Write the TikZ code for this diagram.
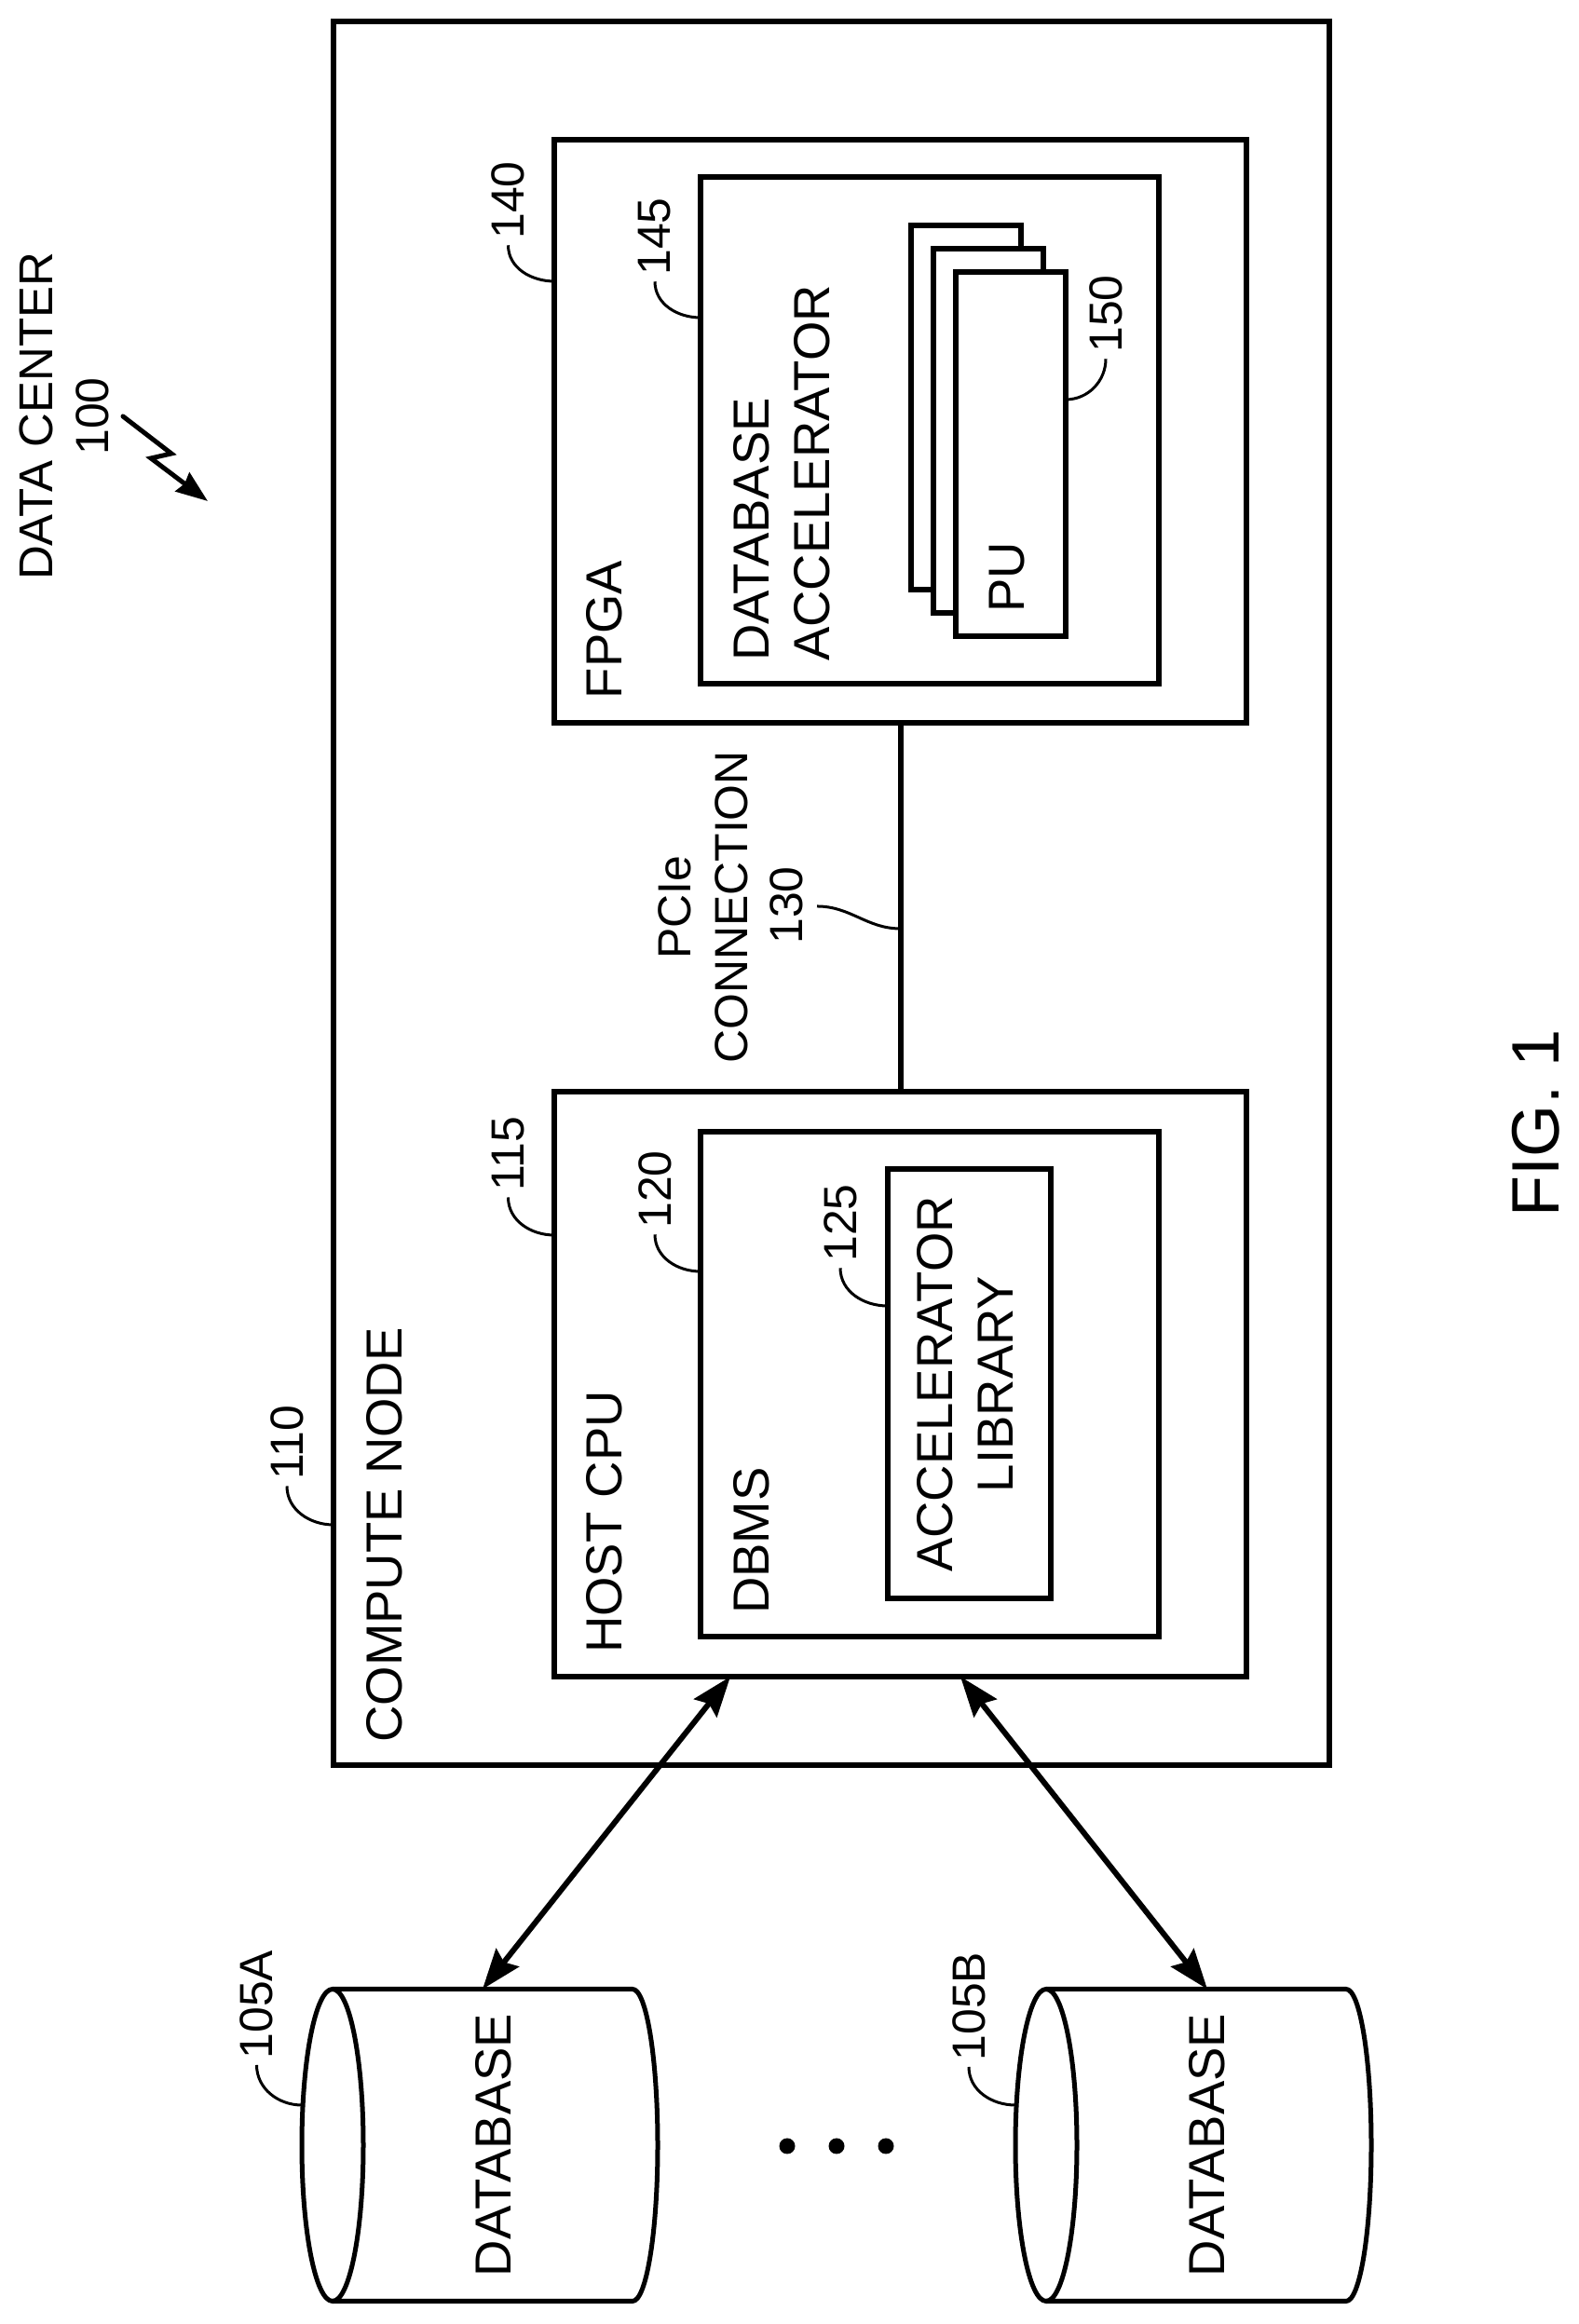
\documentclass[tikz,border=0pt]{standalone}
\usepackage{fontspec}
\setmainfont{Liberation Sans}
\usetikzlibrary{arrows.meta}
\tikzset{
  box/.style={draw, rectangle, line width=0.06cm, inner sep=0, outer sep=0, fill=white},
  dbase/.style={rectangle, inner sep=0, outer sep=0, minimum width=3.82cm, minimum height=3.35cm},
  canline/.style={line width=0.05cm},
  txt/.style={rotate=90, inner sep=0, font=\fontsize{14.2}{18.5}\selectfont},
  bigtxt/.style={rotate=90, inner sep=0, font=\fontsize{15.5}{18.5}\selectfont},
  reflabel/.style={txt, inner sep=0.06cm},
  figlabel/.style={rotate=90, inner sep=0, font=\fontsize{20.5}{25}\selectfont},
  dotmark/.style={circle, fill=black, inner sep=0, minimum size=0.17cm},
  leader/.style={line width=0.03cm},
  wire/.style={line width=0.06cm},
  biarrow/.style={line width=0.06cm, {Stealth[length=0.43cm,width=0.31cm,inset=0.06cm]}-{Stealth[length=0.43cm,width=0.31cm,inset=0.06cm]}},
  zap/.style={line width=0.05cm, line cap=round, -{Stealth[length=0.34cm,width=0.25cm,inset=0.03cm]}}
}
\newcommand{\dbcan}[1]{
  \draw[canline] ([xshift=0.33cm]#1.west) ellipse (0.33 and 1.675);
  \draw[canline] ([xshift=0.33cm]#1.north west) -- ([xshift=-0.27cm]#1.north east)
    arc (90:-90:0.27 and 1.675) -- ([xshift=0.33cm]#1.south west);
}
\begin{document}
\begin{tikzpicture}
  \useasboundingbox (0,0) rectangle (16.94,24.95);

  % data center
  \node[txt, font=\fontsize{14.5}{18.5}\selectfont] (datacenter) at (0.39, 20.48) {DATA CENTER};
  \node[txt] (lab100) at (0.99, 20.48) {100};
  \coordinate (zapa) at (1.32, 20.48);
  \coordinate (zapb) at (1.84, 20.08);
  \coordinate (zapc) at (1.62, 20.03);
  \coordinate (zapd) at (2.23, 19.57);
  \draw[zap] (zapa) -- (zapb) -- (zapc) -- (zapd);

  % compute node
  \node[box, minimum width=10.69cm, minimum height=18.72cm] (compute) at (8.925, 15.36) {};
  \node[bigtxt] (computetxt) at (4.13, 8.47) {COMPUTE NODE};
  \node[reflabel] (lab110) at (3.08, 9.46) {110};
  \draw[leader] (lab110.west) to[out=-90, in=180] (compute.west |- 0, 8.58);

  % fpga
  \node[box, minimum width=7.43cm, minimum height=6.26cm] (fpga) at (9.665, 20.32) {};
  \node[bigtxt] (fpgatxt) at (6.49, 18.19) {FPGA};
  \node[reflabel] (lab140) at (5.455, 22.80) {140};
  \draw[leader] (lab140.west) to[out=-90, in=180] (fpga.west |- 0, 21.93);

  \node[box, minimum width=4.925cm, minimum height=5.435cm] (accel) at (9.98, 20.33) {};
  \node[bigtxt, align=left] (acceltxt) at (8.395, 19.87) {DATABASE\\ACCELERATOR};
  \node[reflabel] (lab145) at (7.03, 22.41) {145};
  \draw[leader] (lab145.west) to[out=-90, in=180] (accel.west |- 0, 21.54);

  \node[box, minimum width=1.18cm, minimum height=3.91cm] (pua) at (10.365, 20.575) {};
  \node[box, minimum width=1.18cm, minimum height=3.91cm] (pub) at (10.61, 20.325) {};
  \node[box, minimum width=1.18cm, minimum height=3.91cm] (puc) at (10.85, 20.075) {};
  \node[bigtxt] (putxt) at (10.81, 18.75) {PU};
  \node[reflabel] (lab150) at (11.87, 21.58) {150};
  \draw[leader] (puc.east |- 0, 20.66) to[out=0, in=-90] (lab150.west);

  % host cpu
  \node[box, minimum width=7.43cm, minimum height=6.28cm] (host) at (9.665, 10.09) {};
  \node[bigtxt] (hosttxt) at (6.49, 8.61) {HOST CPU};
  \node[reflabel] (lab115) at (5.455, 12.56) {115};
  \draw[leader] (lab115.west) to[out=-90, in=180] (host.west |- 0, 11.69);

  \node[box, minimum width=4.925cm, minimum height=5.426cm] (dbms) at (9.98, 10.09) {};
  \node[bigtxt] (dbmstxt) at (8.07, 8.41) {DBMS};
  \node[reflabel] (lab120) at (7.03, 12.18) {120};
  \draw[leader] (lab120.west) to[out=-90, in=180] (dbms.west |- 0, 11.30);

  \node[box, minimum width=1.75cm, minimum height=4.61cm] (library) at (10.40, 10.095) {};
  \node[bigtxt, align=center] (librarytxt) at (10.36, 10.09) {ACCELERATOR\\LIBRARY};
  \node[reflabel] (lab125) at (9.02, 11.82) {125};
  \draw[leader] (lab125.west) to[out=-90, in=180] (library.west |- 0, 10.93);

  % pcie
  \draw[wire] (fpga) -- (host);
  \node[txt, align=center] (pcietxt) at (7.545, 15.21) {PCIe\\[-1.2pt]CONNECTION};
  \node[txt] (lab130) at (8.44, 15.23) {130};
  \coordinate (lead130) at (8.77, 15.22);
  \draw[leader] (lead130) to[out=0, in=180] (fpga.south |- 0, 14.98);

  % databases
  \node[dbase] (dba) at (5.15, 1.92) {};
  \dbcan{dba}
  \node[bigtxt] (dbatxt) at (5.30, 1.92) {DATABASE};
  \node[reflabel] (lab105a) at (2.755, 3.43) {105A};
  \draw[leader] (lab105a.west) to[out=-90, in=180] (dba.west |- 0, 2.35);

  \node[dbase] (dbb) at (12.81, 1.92) {};
  \dbcan{dbb}
  \node[bigtxt] (dbbtxt) at (12.96, 1.92) {DATABASE};
  \node[reflabel] (lab105b) at (10.40, 3.41) {105B};
  \draw[leader] (lab105b.west) to[out=-90, in=180] (dbb.west |- 0, 2.35);

  \node[dotmark] (dota) at (8.45, 1.91) {};
  \node[dotmark] (dotb) at (8.98, 1.91) {};
  \node[dotmark] (dotc) at (9.51, 1.91) {};

  \draw[biarrow] (7.84, 0 |- host.south) -- (5.18, 0 |- dba.north);
  \draw[biarrow] (10.31, 0 |- host.south) -- (12.96, 0 |- dbb.north);

  \node[figlabel] (figtxt) at (16.49, 12.89) {FIG. 1};
\end{tikzpicture}
\end{document}
